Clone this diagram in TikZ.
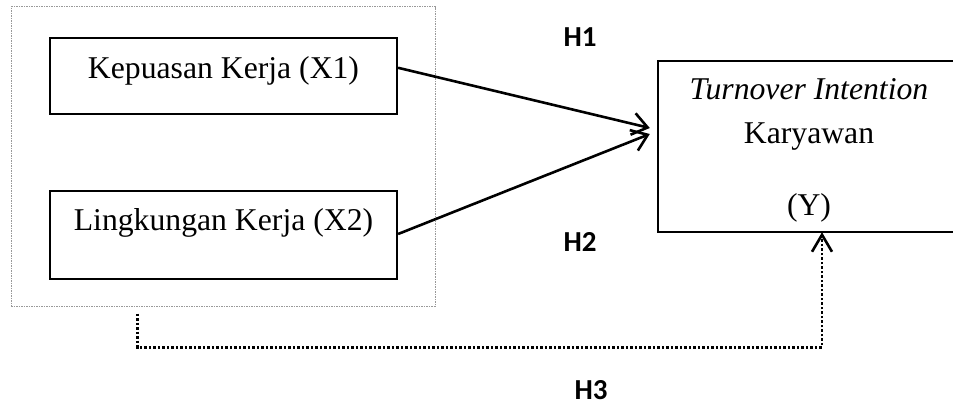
\documentclass[tikz,border=0pt]{standalone}
\usepackage{fontspec}
\setmainfont{Liberation Serif}
\newfontfamily\hypfont{Carlito}
\usetikzlibrary{arrows.meta,calc}

\tikzset{
  varbox/.style={draw, line width=2.2pt, inner sep=0pt, minimum width=347pt, minimum height=88pt},
  groupbox/.style={draw=gray!80, line width=1pt, dash pattern=on 1.5pt off 1pt, inner sep=0pt,
                   minimum width=424pt, minimum height=299pt},
  depbox/.style={inner sep=0pt, minimum width=302pt, minimum height=171pt},
  vartext/.style={anchor=base, inner sep=0pt, font=\fontsize{31.7}{36}\selectfont},
  hyp/.style={inner sep=0pt, font=\hypfont\bfseries\fontsize{29}{34}\selectfont},
  effect/.style={line width=2.6pt, -{Straight Barb[length=15pt,width=22pt,line width=2.6pt]}},
  joint/.style={line width=2.8pt, dash pattern=on 2.5pt off 2pt,
                -{Straight Barb[length=17pt,width=20pt,line width=2.6pt,line join=miter]}}
}

\begin{document}
\begin{tikzpicture}[x=1pt, y=-1pt]
  \useasboundingbox (0,0) rectangle (953,409);
  \clip (0,0) rectangle (953,409);

  % group of independent variables
  \node[groupbox] (grp) at (223,156.5) {};

  % independent variables
  \node[varbox, minimum height=76pt] (x1) at (223.5,76) {};
  \node[vartext] (x1t) at (223.5,79) {Kepuasan Kerja (X1)};
  \node[varbox] (x2) at (223.5,235) {};
  \node[vartext] (x2t) at (223.5,230) {Lingkungan Kerja (X2)};

  % dependent variable (box runs past the right edge)
  \node[depbox] (y) at (809,146.5) {};
  \draw[line width=2pt] ($(y.north east)+(5,0)$) -- (y.north west) -- (y.south west) -- ($(y.south east)+(5,0)$);
  \node[vartext] (yt1) at (809,100) {\itshape Turnover Intention};
  \node[vartext] (yt2) at (809,143) {Karyawan};
  \node[vartext] (yt3) at (809,215) {(Y)};

  % partial effects
  \draw[effect] ($(x1.north east)!0.395!(x1.south east)$) -- ($(y.west)+(-8,-18.5)$);
  \draw[effect] ($(x2.east)+(0,-1)$) -- ($(y.west)+(-8,-12.5)$);

  % joint effect
  \draw[joint] ($(grp.south west)+(127,7)$) |- ($(y.south)+(13,115)$) -- ($(y.south)+(13,0)$);

  % hypothesis labels
  \node[hyp] (h1) at (580,37) {H1};
  \node[hyp] (h2) at (580,242) {H2};
  \node[hyp] (h3) at (591,390) {H3};
\end{tikzpicture}
\end{document}
